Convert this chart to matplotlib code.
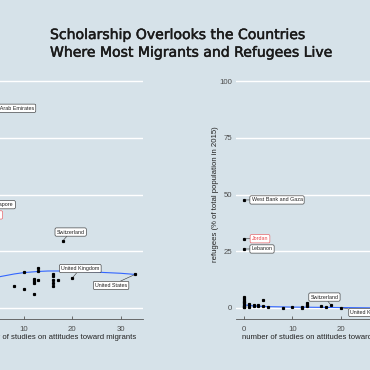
import matplotlib
matplotlib.use('Agg')
import matplotlib.pyplot as plt
import matplotlib.patheffects as pe

# ---------------- data ----------------
title_lines = ["Scholarship Overlooks the Countries",
               "Where Most Migrants and Refugees Live"]

# migrants panel
mig_x = [0, 2, 1, 8, 10, 10, 12, 12, 12, 12, 13, 13, 13, 16, 16, 16, 16, 16, 17, 18, 20, 33]
mig_y = [41, 45.5, 88, 9.8, 15.7, 8.2, 12.8, 11.9, 11.0, 6.0, 17.7, 16.4, 12.3,
         15.0, 14.2, 12.2, 11.0, 9.8, 12.2, 29.5, 13.2, 14.8]
mig_names = ["Jordan", "Singapore", "United Arab Emirates", "", "", "", "", "", "", "",
             "", "", "", "", "", "", "", "", "", "Switzerland", "United Kingdom", "United States"]
mig_fit_x = [0, 3, 5, 8, 10, 13, 15, 18, 20, 25, 30, 33]
mig_fit_y = [11.0, 12.7, 13.8, 15.0, 15.6, 16.1, 16.3, 16.3, 16.2, 15.8, 15.3, 14.8]

# refugees panel
ref_x = [0, 0, 0, 0, 0, 0, 0, 0, 0, 0, 0, 0,
         1, 1, 1, 2, 2, 3, 3, 4, 4, 5, 8, 10, 12, 12, 13, 13, 13, 16, 17, 18, 20]
ref_y = [4.7, 4.0, 3.3, 2.6, 2.0, 1.5, 1.0, 0.6, 0.3, 47.6, 30.5, 26.0,
         1.8, 1.2, 0.6, 1.3, 0.8, 1.5, 0.9, 3.5, 1.0, 0.3, 0.2, 0.3, 0.4, 0.2,
         2.3, 1.5, 0.8, 1.0, 0.6, 1.3, 0.2]
ref_names = ["", "", "", "", "", "", "", "", "", "West Bank and Gaza", "Jordan", "Lebanon",
             "", "", "", "", "", "", "", "", "", "", "", "", "", "", "", "", "", "", "",
             "Switzerland", "United Kingdom"]
ref_fit_x = [0, 2, 5, 10, 15, 20, 25, 30, 33]
ref_fit_y = [1.4, 0.9, 0.6, 0.4, 0.3, 0.2, 0.1, 0.0, 0.0]

x_ticks = [0, 10, 20, 30]
y_ticks = [0, 25, 50, 75, 100]
x_labels = ["number of studies on attitudes toward migrants",
            "number of studies on attitudes toward refugees"]
y_labels = ["migrants (% of total population in 2015)",
            "refugees (% of total population in 2015)"]

# ---------------- layout / style ----------------
BG = '#d6e2e9'
HL = 'Jordan'
HL_COL = '#e8474c'
# label box center offsets from the point, in pixels (dx right, dy down)
mig_off = {"United Arab Emirates": (28, 0), "Singapore": (16, 0), "Jordan": (17, 0),
           "Switzerland": (8, -9), "United Kingdom": (8, -9.5), "United States": (-24, 11)}
ref_off = {"West Bank and Gaza": (33, 0), "Jordan": (16, 0), "Lebanon": (18, 0),
           "Switzerland": (-6.5, -8), "United Kingdom": (29, 5)}

W = H = 370
fig = plt.figure(figsize=(3.7, 3.7), dpi=100, facecolor=BG)

px_per_x = 4.83
xlim = (-1.65, 34.65)
axw = (xlim[1] - xlim[0]) * px_per_x
bottom_px, top_px = 319.35, 69.65
rect_y = 1 - bottom_px / H
rect_h = (bottom_px - top_px) / H
axL = fig.add_axes([(-24.3 + xlim[0] * px_per_x) / W, rect_y, axw / W, rect_h])
axR = fig.add_axes([(244 + xlim[0] * px_per_x) / W, rect_y, axw / W, rect_h])

lab_font = ['Liberation Sans', 'DejaVu Sans']


def panel(ax, xs, ys, names, fx, fy, offs, xlabel, ylabel):
    ax.set_facecolor(BG)
    for s in ['top', 'right', 'left']:
        ax.spines[s].set_visible(False)
    ax.spines['bottom'].set_color('#555555')
    ax.spines['bottom'].set_linewidth(0.6)
    ax.set_xlim(*xlim)
    ax.set_ylim(-5, 105)
    ax.set_yticks(y_ticks)
    ax.set_xticks(x_ticks)
    ax.grid(axis='y', color='white', linewidth=1.0)
    ax.set_axisbelow(True)
    ax.tick_params(axis='y', length=0, pad=3, labelsize=5.6, labelcolor='#4d4d4d')
    ax.tick_params(axis='x', direction='in', length=2.2, width=0.6, color='#555555',
                   pad=4.5, labelsize=5.6, labelcolor='#4d4d4d')
    for t in ax.get_xticklabels() + ax.get_yticklabels():
        t.set_family(lab_font)
    ax.set_xlabel(xlabel, fontsize=5.6, family=lab_font, color='#222222', labelpad=1.0)
    ax.set_ylabel(ylabel, fontsize=5.6, family=lab_font, color='#222222', labelpad=0.2)
    ax.plot(fx, fy, color='#3366ff', linewidth=0.8, zorder=3)
    ax.plot(xs, ys, linestyle='none', marker='s', markersize=1.3, color='black', zorder=4)
    for x, y, n in zip(xs, ys, names):
        if not n:
            continue
        dx, dy = offs[n]
        col = HL_COL if n == HL else '#222222'
        ax.annotate(n, xy=(x, y), xytext=(dx, -dy), textcoords='offset pixels',
                    ha='center', va='center', fontsize=3.9, family=lab_font, color=col,
                    bbox=dict(boxstyle='round,pad=0.3,rounding_size=0.25', fc='white',
                              ec=col, lw=0.4),
                    arrowprops=dict(arrowstyle='-', lw=0.4, color='#333333',
                                    shrinkA=0, shrinkB=1),
                    zorder=5, annotation_clip=False)


panel(axL, mig_x, mig_y, mig_names, mig_fit_x, mig_fit_y, mig_off, x_labels[0], y_labels[0])
panel(axR, ref_x, ref_y, ref_names, ref_fit_x, ref_fit_y, ref_off, x_labels[1], y_labels[1])

stroke = [pe.withStroke(linewidth=0.35, foreground='#1a1a1a')]
fig.text(50 / W, 1 - 39 / H, title_lines[0], fontsize=10.1, family=['DejaVu Sans'],
         color='#1a1a1a', va='baseline', ha='left', path_effects=stroke)
fig.text(50 / W, 1 - 56.7 / H, title_lines[1], fontsize=10.1, family=['DejaVu Sans'],
         color='#1a1a1a', va='baseline', ha='left', path_effects=stroke)

fig.savefig('out.png', dpi=100, facecolor=BG)
